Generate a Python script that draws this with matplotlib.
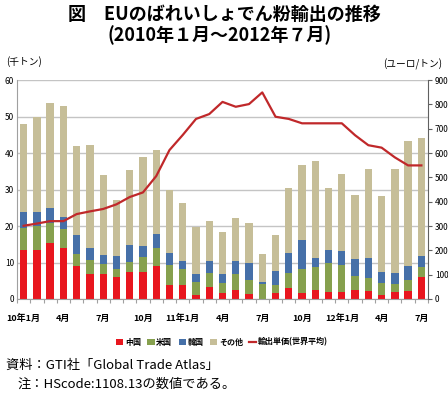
import numpy as np
import matplotlib
matplotlib.use("Agg")
import matplotlib.pyplot as plt

plt.rcParams['font.family'] = ['Noto Sans CJK JP', 'DejaVu Sans']

# 2010年1月〜2012年7月 (千トン)
meses = list(range(31))
china = [13.4, 13.4, 15.4, 14.1, 9.0, 6.9, 6.9, 6.1, 7.5, 7.5,
         9.1, 3.8, 3.7, 1.2, 3.2, 1.6, 2.6, 1.4, 0.0, 1.6,
         2.9, 1.7, 2.5, 2.0, 2.0, 2.5, 2.2, 1.0, 1.8, 2.1, 6.1]
eeuu = [6.1, 6.6, 5.4, 5.0, 3.3, 3.9, 2.7, 2.1, 2.7, 4.0,
        4.8, 5.4, 4.5, 3.4, 3.9, 2.9, 4.3, 3.9, 4.2, 2.2,
        4.3, 6.4, 6.3, 7.9, 7.3, 3.9, 3.6, 3.3, 2.4, 3.0, 2.6]
corea = [4.3, 3.9, 4.0, 3.4, 5.1, 3.3, 2.5, 3.6, 4.7, 3.1,
         4.0, 3.4, 2.2, 2.3, 3.2, 2.3, 3.4, 4.5, 0.5, 4.0,
         5.3, 8.0, 2.5, 3.5, 3.9, 4.6, 5.3, 3.2, 2.8, 4.0, 3.1]
total = [47.9, 50.0, 53.8, 52.8, 42.0, 42.2, 33.9, 27.1, 35.3, 38.9,
         40.7, 30.0, 26.3, 19.8, 21.4, 18.3, 22.2, 20.9, 12.4, 17.5,
         30.4, 36.7, 37.8, 30.4, 34.3, 28.4, 35.6, 28.3, 35.5, 43.4, 44.2]
otros = [round(t - a - b - c, 1) for t, a, b, c in zip(total, china, eeuu, corea)]

# 輸出単価 (ユーロ/トン)
precio = [301, 310, 320, 320, 349, 360, 370, 389, 419, 438,
          505, 612, 674, 740, 760, 810, 790, 801, 849, 749,
          740, 722, 722, 722, 722, 673, 632, 622, 582, 549, 549]

etiquetas = {0: '10年1月', 3: '4月', 6: '7月', 9: '10月', 12: '11年1月', 15: '4月',
             18: '7月', 21: '10月', 24: '12年1月', 27: '4月', 30: '7月'}

c_china = '#E8161E'
c_eeuu = '#86A04E'
c_corea = '#4670A8'
c_otros = '#C6BE98'
c_linea = '#C0282A'

fig = plt.figure(figsize=(4.48, 3.97), dpi=100)
ax = fig.add_axes([17/448, 98/397, 411/448, 219/397])

x = np.array(meses)
w = 0.55
base = np.zeros(31)
barras = []
for datos, col, nombre in [(china, c_china, '中国'), (eeuu, c_eeuu, '米国'),
                           (corea, c_corea, '韓国'), (otros, c_otros, 'その他')]:
    b = ax.bar(x, datos, w, bottom=base, color=col, label=nombre, zorder=2)
    barras.append(b)
    base = base + np.array(datos)

ax.set_xlim(-0.5, 30.5)
ax.set_ylim(0, 60)
ax.set_yticks(range(0, 61, 10))
ax.yaxis.grid(True, color='#C4C4C4', lw=1, zorder=0)
ax.set_axisbelow(True)
ax.set_xticks(np.arange(-0.5, 31, 1))
ax.set_xticklabels([])
ax.tick_params(axis='x', length=3, color='#A0A0A0')
ax.tick_params(axis='y', length=0, labelsize=6, pad=2)
for k, t in etiquetas.items():
    ax.text(k, -4.0, t, ha='center', va='top', fontsize=6.5, fontweight='bold')

for s in ['top', 'right']:
    ax.spines[s].set_visible(False)
ax.spines['left'].set_color('#A0A0A0')
ax.spines['bottom'].set_color('#A0A0A0')

ax2 = ax.twinx()
ax2.set_ylim(0, 900)
ax2.set_yticks(range(0, 901, 100))
ax2.tick_params(axis='y', length=3, labelsize=6, pad=2, color='#606060')
ax2.spines['top'].set_visible(False)
ax2.spines['left'].set_visible(False)
ax2.spines['bottom'].set_visible(False)
ax2.spines['right'].set_color('#606060')
linea, = ax2.plot(x, precio, color=c_linea, lw=1.6, label='輸出単価(世界平均)', zorder=3)

fig.text(0.5, 1 - 14/397, '図　EUのばれいしょでん粉輸出の推移', ha='center', va='center',
         fontsize=13, fontweight='bold')
fig.text(0.49, 1 - 35/397, '(2010年１月～2012年７月)', ha='center', va='center',
         fontsize=13, fontweight='bold')
fig.text(6/448, 1 - 62/397, '(千トン)', ha='left', va='center', fontsize=7)
fig.text(442/448, 1 - 64/397, '(ユーロ/トン)', ha='right', va='center', fontsize=7)

fig.legend(handles=barras + [linea], loc='center', bbox_to_anchor=(222/448, 1 - 342/397),
           ncol=5, frameon=False, fontsize=5.8, handlelength=0.9, handleheight=0.8,
           handletextpad=0.2, columnspacing=0.8, borderaxespad=0,
           prop={'weight': 'bold', 'size': 5.8})

fig.text(6/448, 1 - 365/397, '資料：GTI社「Global Trade Atlas」', ha='left', va='center', fontsize=9.5)
fig.text(18/448, 1 - 384/397, '注：HScode:1108.13の数値である。', ha='left', va='center', fontsize=9.5)

fig.savefig('out.png', dpi=100)
